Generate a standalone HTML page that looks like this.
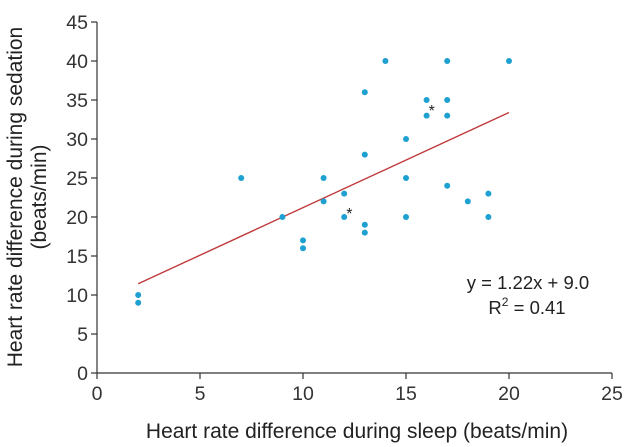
<!DOCTYPE html>
<html><head><meta charset="utf-8"><style>
html,body{margin:0;padding:0;background:#fff;}
svg{display:block;font-family:"Liberation Sans",Arial,sans-serif;}
</style></head><body>
<svg id="chart" width="633" height="447" viewBox="0 0 633 447"></svg>
<script>
const xVals=[2,2,7,9,10,10,11,11,12,12,13,13,13,13,14,15,15,15,16,16,17,17,17,17,18,19,19,20];
const yVals=[10,9,25,20,17,16,25,22,23,20,36,28,19,18,40,30,25,20,35,33,40,35,33,24,22,23,20,40];
const xTicks=[0,5,10,15,20,25];
const yTicks=[0,5,10,15,20,25,30,35,40,45];
const slope=1.22, intercept=9.0, fitRange=[2,20];
const stars=[[16.25,34],[12.25,20.8]];
const NS="http://www.w3.org/2000/svg";
const svg=document.getElementById('chart');
const X0=97,X1=612,Y0=373,Y1=22;
const sx=v=>X0+(v-0)/25*(X1-X0);
const sy=v=>Y0-(v-0)/45*(Y0-Y1);
function mk(t,a,txt){const e=document.createElementNS(NS,t);for(const k in a)e.setAttribute(k,a[k]);if(txt!==undefined)e.textContent=txt;svg.appendChild(e);return e;}
let e;
e=mk('line',{x1:X0,y1:Y1,x2:X0,y2:Y0,stroke:'#333','stroke-width':1.2});


e=mk('line',{x1:X0,y1:Y0,x2:X1,y2:Y0,stroke:'#333','stroke-width':1.2});


yTicks.forEach(t=>{
 e=mk('line',{x1:X0-6,y1:sy(t),x2:X0,y2:sy(t),stroke:'#333','stroke-width':1.2});
 
 
 e=mk('text',{x:X0-9,y:sy(t)+7,'text-anchor':'end','font-size':19.5,fill:'#333'},t);
 
 
});
xTicks.forEach(t=>{
 e=mk('line',{x1:sx(t),y1:Y0,x2:sx(t),y2:Y0+6,stroke:'#333','stroke-width':1.2});
 
 
 e=mk('text',{x:sx(t),y:Y0+27,'text-anchor':'middle','font-size':19.5,fill:'#333'},t);
 
 
});
e=mk('line',{x1:sx(fitRange[0]),y1:sy(slope*fitRange[0]+intercept),x2:sx(fitRange[1]),y2:sy(slope*fitRange[1]+intercept),stroke:'#c0393b','stroke-width':1.4});


xVals.forEach((x,i)=>{
 e=mk('circle',{cx:sx(x),cy:sy(yVals[i]),r:3,fill:'#1ea0d0'});
 
 
});
stars.forEach(s=>{
 e=mk('text',{x:sx(s[0]),y:sy(s[1])+8,'text-anchor':'middle','font-size':16,fill:'#222'},'*');
 
 
});
e=mk('text',{x:528,y:289,'text-anchor':'middle','font-size':18.5,fill:'#222'},'y = 1.22x + 9.0');


e=mk('text',{x:527,y:314,'text-anchor':'middle','font-size':18.5,fill:'#222'});
e.innerHTML='R<tspan dy="-8" font-size="12">2</tspan><tspan dy="8"> = 0.41</tspan>';


e=mk('text',{x:357,y:438,'text-anchor':'middle','font-size':21,fill:'#222'},'Heart rate difference during sleep (beats/min)');


e=mk('text',{x:0,y:0,'text-anchor':'middle','font-size':21,fill:'#222',transform:'translate(22,197) rotate(-90)'},'Heart rate difference during sedation');


e=mk('text',{x:0,y:0,'text-anchor':'middle','font-size':21,fill:'#222',transform:'translate(46,197) rotate(-90)'},'(beats/min)');


</script>
</body></html>
